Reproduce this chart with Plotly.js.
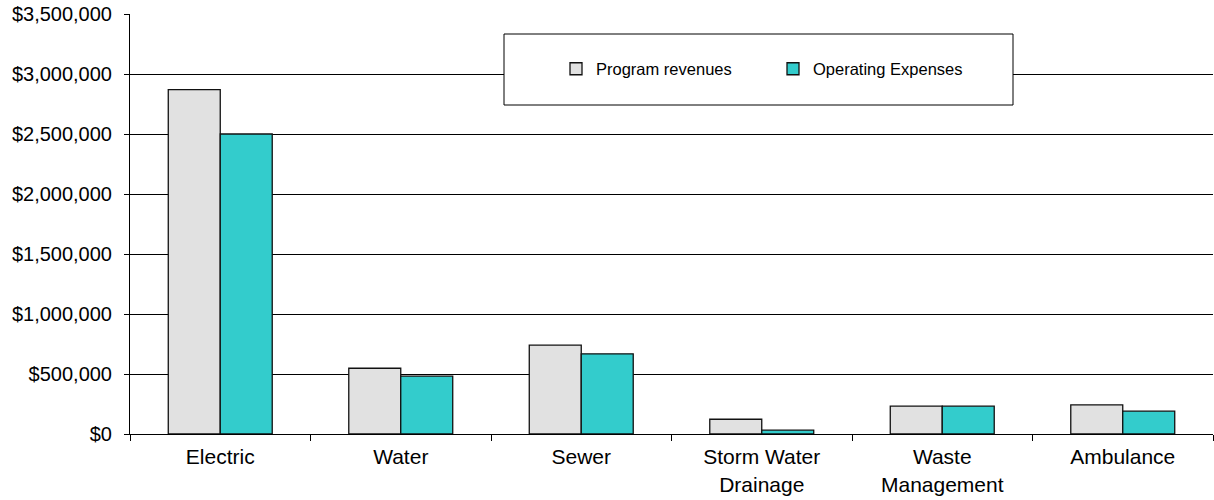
<!DOCTYPE html>
<html>
<head>
<meta charset="utf-8">
<script src="https://cdn.plot.ly/plotly-3.0.1.min.js"></script>
<style>
  html, body { margin: 0; padding: 0; background: #fff; }
  #chart { width: 1214px; height: 500px; }
</style>
</head>
<body>
<div id="chart"></div>
<script>
// Business-type activities: program revenues vs operating expenses
const categories = ['Electric', 'Water', 'Sewer', 'Storm Water<br>Drainage', 'Waste<br>Management', 'Ambulance'];
const programRevenues = [2870000, 548000, 740000, 123000, 232000, 243000];
const operatingExpenses = [2500000, 482000, 668000, 32000, 232000, 190000];
const yTickValues = [0, 500000, 1000000, 1500000, 2000000, 2500000, 3000000, 3500000];

const FONT = '"Liberation Sans", Arial, sans-serif';

// plot area geometry (pixels) used to place the legend frame
const PLOT_L = 130, PLOT_W = 1083, PLOT_B = 434, PLOT_H = 420;
const px2x = (px) => (px - PLOT_L) / PLOT_W;
const px2y = (py) => (PLOT_B - py) / PLOT_H;

const traces = [
  {
    type: 'bar',
    name: 'Program revenues',
    x: categories,
    y: programRevenues,
    marker: { color: '#e1e1e1', line: { color: '#111111', width: 1.3 } },
    hoverinfo: 'skip'
  },
  {
    type: 'bar',
    name: 'Operating Expenses',
    x: categories,
    y: operatingExpenses,
    marker: { color: '#33cccc', line: { color: '#111111', width: 1.3 } },
    hoverinfo: 'skip'
  }
];

const layout = {
  width: 1214,
  height: 500,
  margin: { l: 130, r: 1, t: 14, b: 66, pad: 0, autoexpand: false },
  paper_bgcolor: '#ffffff',
  plot_bgcolor: '#ffffff',
  font: { family: FONT, size: 18, color: '#000' },
  barmode: 'group',
  bargap: 0.424,
  bargroupgap: 0,
  xaxis: {
    type: 'category',
    showline: true,
    linecolor: '#000',
    linewidth: 1,
    ticks: 'outside',
    tickson: 'boundaries',
    ticklen: 6,
    tickcolor: '#000',
    tickwidth: 1,
    showgrid: false,
    automargin: false,
    ticklabelstandoff: 4,
    tickfont: { family: FONT, size: 21, color: '#000' }
  },
  yaxis: {
    range: [0, 3500000],
    tickvals: yTickValues,
    tickformat: '$,.0f',
    showline: true,
    linecolor: '#000',
    linewidth: 1,
    ticks: 'outside',
    ticklen: 5,
    tickcolor: '#000',
    tickwidth: 1,
    showgrid: true,
    gridcolor: '#000',
    gridwidth: 1,
    zeroline: false,
    automargin: false,
    ticklabelstandoff: 8,
    tickfont: { family: FONT, size: 20, color: '#000' }
  },
  shapes: [
    {
      type: 'rect',
      xref: 'paper', yref: 'paper',
      x0: px2x(504), x1: px2x(1013),
      y0: px2y(105), y1: px2y(34),
      fillcolor: '#ffffff',
      line: { color: '#000', width: 1 },
      layer: 'above'
    }
  ],
  showlegend: true,
  legend: {
    orientation: 'h',
    xref: 'paper', yref: 'paper',
    x: px2x(556), y: px2y(69),
    xanchor: 'left', yanchor: 'middle',
    bgcolor: 'rgba(0,0,0,0)',
    borderwidth: 0,
    entrywidth: 172,
    entrywidthmode: 'pixels',
    traceorder: 'normal',
    font: { family: FONT, size: 16.5, color: '#000' }
  }
};

Plotly.newPlot('chart', traces, layout, { staticPlot: true, displayModeBar: false });
</script>
</body>
</html>
